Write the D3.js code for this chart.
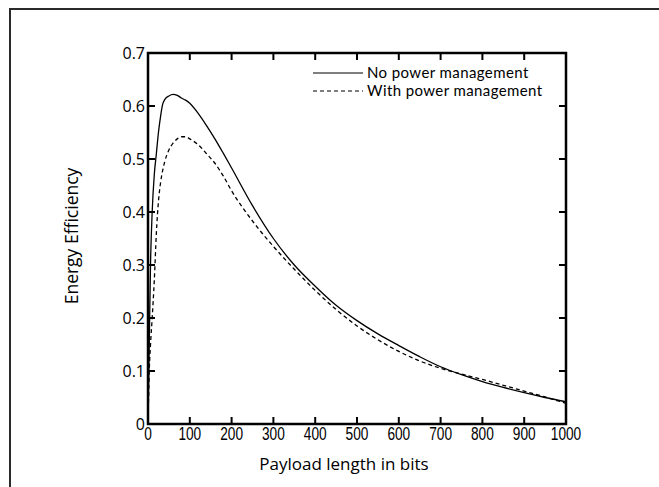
<!DOCTYPE html>
<html>
<head>
<meta charset="utf-8">
<script src="https://cdn.jsdelivr.net/npm/d3@7"></script>
<style>
  body { margin: 0; background: #fff; }
  svg { display: block; }
</style>
</head>
<body>
<div id="chart"></div>
<script>
// payload length (bits) and energy efficiency
const payload = [0, 3, 6, 10, 15, 20, 25, 30, 35, 40, 50, 60, 70, 80, 90, 100, 120, 140, 160, 180, 200,
  250, 300, 350, 400, 450, 500, 550, 600, 650, 700, 750, 800, 850, 900, 950, 1000]
const noPm = [0, 0.15, 0.30, 0.40, 0.47, 0.51, 0.55, 0.58, 0.603, 0.612, 0.619, 0.622, 0.620, 0.615, 0.611, 0.605, 0.586, 0.563, 0.538, 0.511, 0.483,
  0.412, 0.350, 0.300, 0.260, 0.224, 0.195, 0.170, 0.148, 0.127, 0.108, 0.093, 0.080, 0.069, 0.059, 0.050, 0.042]
const withPm = [0, 0.10, 0.15, 0.20, 0.27, 0.36, 0.42, 0.455, 0.478, 0.495, 0.517, 0.530, 0.538, 0.542, 0.542, 0.538, 0.527, 0.510, 0.492, 0.468, 0.440,
  0.383, 0.335, 0.292, 0.252, 0.216, 0.185, 0.159, 0.137, 0.119, 0.105, 0.094, 0.084, 0.073, 0.062, 0.051, 0.039]
const xTicks = [0, 100, 200, 300, 400, 500, 600, 700, 800, 900, 1000]
const yTicks = [0, 0.1, 0.2, 0.3, 0.4, 0.5, 0.6, 0.7]
const seriesNames = ['No power management', 'With power management']

const W = 659, H = 487
const margin = { left: 148, top: 53, right: 659 - 566, bottom: 487 - 424 }
const font = '"Open Sans", sans-serif'

const svg = d3.select('#chart').append('svg')
  .attr('width', W).attr('height', H)

// outer frame (runs off the right and bottom edges)
svg.append('rect')
  .attr('x', 10).attr('y', 9).attr('width', 700).attr('height', 520)
  .attr('fill', 'none').attr('stroke', '#2a2a2a').attr('stroke-width', 2)

const x = d3.scaleLinear().domain([0, 1000]).range([margin.left, W - margin.right])
const y = d3.scaleLinear().domain([0, 0.7]).range([H - margin.bottom, margin.top])

const g = svg.append('g')

// inward ticks on all four sides
const inner = xTicks.slice(1, -1)
const innerY = yTicks.slice(1, -1)
const tickLen = 7
g.selectAll('.tb').data(inner).enter().append('line')
  .attr('x1', d => x(d)).attr('x2', d => x(d))
  .attr('y1', y(0)).attr('y2', y(0) - tickLen)
  .attr('stroke', '#000').attr('stroke-width', 2)
g.selectAll('.tt').data(inner).enter().append('line')
  .attr('x1', d => x(d)).attr('x2', d => x(d))
  .attr('y1', y(0.7)).attr('y2', y(0.7) + tickLen)
  .attr('stroke', '#000').attr('stroke-width', 2)
g.selectAll('.tl').data(innerY).enter().append('line')
  .attr('x1', x(0)).attr('x2', x(0) + tickLen)
  .attr('y1', d => y(d)).attr('y2', d => y(d))
  .attr('stroke', '#000').attr('stroke-width', 2)
g.selectAll('.tr').data(innerY).enter().append('line')
  .attr('x1', x(1000)).attr('x2', x(1000) - tickLen)
  .attr('y1', d => y(d)).attr('y2', d => y(d))
  .attr('stroke', '#000').attr('stroke-width', 2)

// box
g.append('rect')
  .attr('x', x(0)).attr('y', y(0.7))
  .attr('width', x(1000) - x(0)).attr('height', y(0) - y(0.7))
  .attr('fill', 'none').attr('stroke', '#000').attr('stroke-width', 2.5)

// x tick labels (narrow face)
g.selectAll('.xl').data(xTicks).enter().append('text')
  .attr('transform', d => `translate(${x(d)},${y(0) + 16}) scale(0.72,1)`)
  .attr('text-anchor', 'middle')
  .style('font-family', '"Liberation Sans", Arial, sans-serif')
  .style('font-size', '19px')
  .text(d => d)

// y tick labels
g.selectAll('.yl').data(yTicks).enter().append('text')
  .attr('x', x(0) - 3).attr('y', d => y(d))
  .attr('dy', '0.36em')
  .attr('text-anchor', 'end')
  .style('font-family', font).style('font-size', '16px')
  .text(d => d === 0 ? '0' : d.toFixed(1))

// curves
const line = data => d3.line()
  .x((d, i) => x(payload[i]))
  .y(d => y(d))
  .curve(d3.curveMonotoneX)(data)

g.append('path').attr('d', line(noPm))
  .attr('fill', 'none').attr('stroke', '#000').attr('stroke-width', 1.3)
g.append('path').attr('d', line(withPm))
  .attr('fill', 'none').attr('stroke', '#000').attr('stroke-width', 1.3)
  .attr('stroke-dasharray', '4,3')

// legend
const leg = g.append('g')
seriesNames.forEach((name, i) => {
  const ly = 73 + i * 18
  leg.append('line')
    .attr('x1', 313).attr('x2', 363).attr('y1', ly).attr('y2', ly)
    .attr('stroke', '#000').attr('stroke-width', 1.2)
    .attr('stroke-dasharray', i === 1 ? '4,3' : null)
  leg.append('text')
    .attr('x', 367).attr('y', ly).attr('dy', '0.35em')
    .style('font-family', 'Lato, sans-serif').style('font-size', '15px')
    .style('letter-spacing', '0.4px')
    .text(name)
})

// axis titles
svg.append('text')
  .attr('x', 344).attr('y', 470)
  .attr('text-anchor', 'middle')
  .style('font-family', font).style('font-size', '17px')
  .text('Payload length in bits')

svg.append('text')
  .attr('transform', 'translate(78,236) rotate(-90)')
  .attr('text-anchor', 'middle')
  .style('font-family', font).style('font-size', '17.5px')
  .text('Energy Efficiency')
</script>
</body>
</html>
